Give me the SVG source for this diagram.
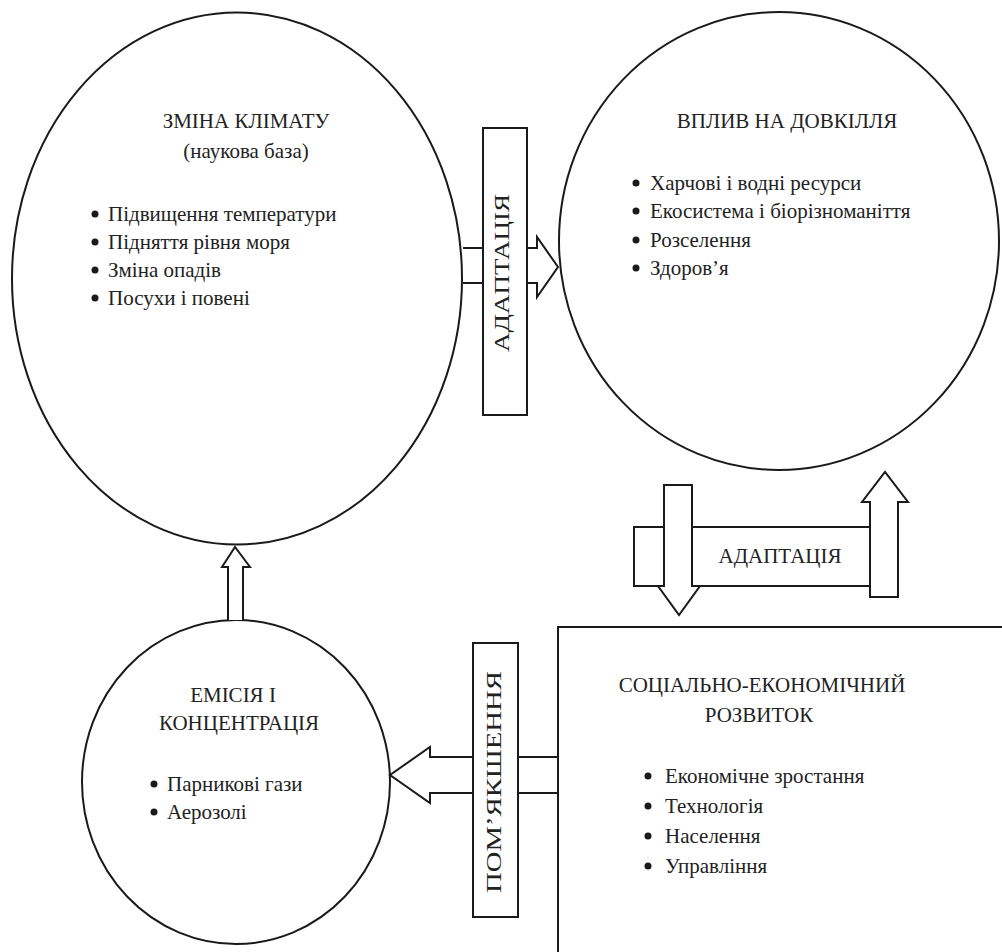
<svg xmlns="http://www.w3.org/2000/svg" width="1002" height="952" viewBox="0 0 1002 952">
<style>
.shape{fill:#fff;stroke:#1a1a1a;stroke-width:2}
.line{fill:none;stroke:#1a1a1a;stroke-width:2}
.arrow{fill:#fff;stroke:#1a1a1a;stroke-width:2;stroke-linejoin:miter}
text{font-family:"Liberation Serif","Times New Roman",serif;fill:#222;font-size:21px}
.t{text-anchor:middle}
.dot{fill:#1a1a1a}
</style>
<rect width="1002" height="952" fill="#fff"/>
<g id="climate">
<ellipse class="shape" cx="237" cy="278.5" rx="225" ry="266"/>
<text class="t" x="246" y="128">ЗМІНА КЛІМАТУ</text>
<text class="t" x="246" y="158">(наукова база)</text>
<circle class="dot" cx="95" cy="214" r="3.5"/><text x="108" y="221">Підвищення температури</text>
<circle class="dot" cx="95" cy="242" r="3.5"/><text x="108" y="249">Підняття рівня моря</text>
<circle class="dot" cx="95" cy="270" r="3.5"/><text x="108" y="277">Зміна опадів</text>
<circle class="dot" cx="95" cy="298" r="3.5"/><text x="108" y="305">Посухи і повені</text>
</g>
<g id="impacts">
<ellipse class="shape" cx="779" cy="241" rx="220" ry="229"/>
<text class="t" x="787" y="128">ВПЛИВ НА ДОВКІЛЛЯ</text>
<circle class="dot" cx="636" cy="183" r="3.5"/><text x="650" y="190">Харчові і водні ресурси</text>
<circle class="dot" cx="636" cy="211" r="3.5"/><text x="650" y="218">Екосистема і біорізноманіття</text>
<circle class="dot" cx="636" cy="240" r="3.5"/><text x="650" y="247">Розселення</text>
<circle class="dot" cx="636" cy="268" r="3.5"/><text x="650" y="275">Здоров’я</text>
</g>
<g id="emissions">
<ellipse class="shape" cx="236" cy="782" rx="154" ry="162"/>
<text class="t" x="233" y="702">ЕМІСІЯ І</text>
<text class="t" x="239" y="730">КОНЦЕНТРАЦІЯ</text>
<circle class="dot" cx="154" cy="784" r="3.5"/><text x="167" y="791">Парникові гази</text>
<circle class="dot" cx="154" cy="812" r="3.5"/><text x="167" y="819">Аерозолі</text>
</g>
<g id="development">
<rect class="shape" x="558" y="627" width="460" height="340"/>
<text class="t" x="762" y="692">СОЦІАЛЬНО-ЕКОНОМІЧНИЙ</text>
<text class="t" x="759" y="722">РОЗВИТОК</text>
<circle class="dot" cx="648" cy="776" r="3.5"/><text x="665" y="783">Економічне зростання</text>
<circle class="dot" cx="648" cy="806" r="3.5"/><text x="665" y="813">Технологія</text>
<circle class="dot" cx="648" cy="836" r="3.5"/><text x="665" y="843">Населення</text>
<circle class="dot" cx="648" cy="866" r="3.5"/><text x="665" y="873">Управління</text>
</g>
<g id="connectors">
<!-- climate -> impacts (adaptation) -->
<path class="line" d="M463,248 H483 M463,283 H483"/>
<path class="arrow" d="M527,248 H537 V237 L558,267 L537,297 V283 H527"/>
<rect class="shape" x="483" y="128" width="44" height="287"/>
<text class="t" transform="translate(509,273) rotate(-90)" textLength="158" lengthAdjust="spacingAndGlyphs">АДАПТАЦІЯ</text>
<!-- impacts <-> development (adaptation) -->
<rect class="shape" x="634" y="527" width="250" height="59"/>
<text class="t" x="780" y="563">АДАПТАЦІЯ</text>
<path class="arrow" d="M664,485 H692 V586 H700 L679,615 L658,586 H664 Z"/>
<path class="arrow" d="M870,597 V502 H862 L885,472 L908,502 H898 V597 Z"/>
<!-- development -> emissions (mitigation) -->
<path class="line" d="M558,757 H518 M558,793 H518"/>
<path class="arrow" d="M473,757 H430 V747 L390,775 L430,803 V793 H473"/>
<rect class="shape" x="473" y="643" width="45" height="274"/>
<text class="t" transform="translate(501,782) rotate(-90)" textLength="222" lengthAdjust="spacingAndGlyphs">ПОМ’ЯКШЕННЯ</text>
<!-- emissions -> climate -->
<path class="arrow" d="M228,620 V567 H222 L235,547 L250,567 H243 V620"/>
</g>
</svg>
